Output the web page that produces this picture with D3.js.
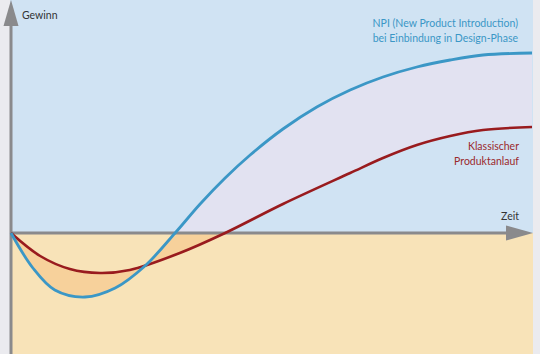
<!DOCTYPE html>
<html>
<head>
<meta charset="utf-8">
<script src="https://cdn.jsdelivr.net/npm/d3@7"></script>
<style>
  body { margin: 0; background: #ebebef; }
  svg { display: block; }
</style>
</head>
<body>
<div id="chart"></div>
<script>
// time axis (0 = launch start), arbitrary units
const npiTime = [0, 4.2, 8.4, 14.2, 20, 25.7, 31.5, 36.3, 41.1, 45.9, 52.2, 58.7, 65.1, 71.4, 77.9, 84.3, 90.6, 100];
const npiProfit = [0, -35, -57, -64, -55, -33, 0, 29, 55, 78, 104, 126, 143, 156, 166, 173, 178, 180];

const classicTime = [0, 5.6, 11.3, 17.1, 22.8, 32.4, 41.1, 52.2, 65.1, 71.4, 77.9, 84.3, 90.6, 100];
const classicProfit = [0, -23, -36, -40, -37, -20, 0, 29, 60, 75, 88, 97, 103, 106];

const labels = {
    yAxis: "Gewinn",
    xAxis: "Zeit",
    npi: ["NPI (New Product Introduction)", "bei Einbindung in Design-Phase"],
    classic: ["Klassischer", "Produktanlauf"]
};

const width = 540, height = 354;
const plot = {left: 10, right: 533};
const x0 = 11; // vertical axis position

const svg = d3.select("#chart").append("svg")
    .attr("width", width)
    .attr("height", height);

let x = d3.scaleLinear().domain([0, 100]).range([x0, 532]);
let y = d3.scaleLinear().domain([-121, 233]).range([354, 0]);

// backgrounds
svg.append("rect")
    .attr("x", plot.left).attr("y", 0)
    .attr("width", plot.right - plot.left).attr("height", y(0))
    .attr("fill", "#d0e3f3");
svg.append("rect")
    .attr("x", plot.left).attr("y", y(0))
    .attr("width", plot.right - plot.left).attr("height", height - y(0))
    .attr("fill", "#f8e3b8");

let lineGen = d3.line()
    .x(d => x(d[0]))
    .y(d => y(d[1]))
    .curve(d3.curveCatmullRom.alpha(0.5));
let npiPts = npiTime.map((t, i) => [t, npiProfit[i]]);
let classicPts = classicTime.map((t, i) => [t, classicProfit[i]]);

// closed path between curves: npi forward, classic backward
let npiPath = lineGen(npiPts);
let classicRev = lineGen(classicPts.slice().reverse());
let areaD = npiPath + "L" + classicRev.slice(1) + "Z";

let defs = svg.append("defs");
defs.append("clipPath").attr("id", "clip-up")
    .append("rect").attr("x", 0).attr("y", 0).attr("width", width).attr("height", y(0));
defs.append("clipPath").attr("id", "clip-down")
    .append("rect").attr("x", 0).attr("y", y(0)).attr("width", width).attr("height", height - y(0));

svg.append("path")
    .attr("d", areaD)
    .attr("fill", "#e2e2f1")
    .attr("clip-path", "url(#clip-up)");
svg.append("path")
    .attr("d", areaD)
    .attr("fill", "#f7d19b")
    .attr("clip-path", "url(#clip-down)");

// axes
let axisColor = "#8a8a8c";
svg.append("line")
    .attr("x1", x0).attr("x2", 508)
    .attr("y1", y(0)).attr("y2", y(0))
    .attr("stroke", axisColor).attr("stroke-width", 3);
svg.append("path")
    .attr("d", `M533,${y(0)} L506,${y(0) - 7.5} L506,${y(0) + 7.5} Z`)
    .attr("fill", axisColor);
svg.append("line")
    .attr("x1", x0).attr("x2", x0)
    .attr("y1", height).attr("y2", 22)
    .attr("stroke", axisColor).attr("stroke-width", 3);
svg.append("path")
    .attr("d", `M${x0},0 L${x0 - 7.5},26 L${x0 + 7.5},26 Z`)
    .attr("fill", axisColor);

// curves
svg.append("path")
    .attr("d", lineGen(classicPts))
    .attr("fill", "none")
    .attr("stroke", "#991b1e")
    .attr("stroke-width", 2.6);
svg.append("path")
    .attr("d", npiPath)
    .attr("fill", "none")
    .attr("stroke", "#3b97c6")
    .attr("stroke-width", 2.8);

// labels
let font = "Lato, 'Open Sans', sans-serif";
svg.append("text")
    .attr("x", 22).attr("y", 19)
    .attr("font-family", font).attr("font-size", 10.5)
    .attr("fill", "#333")
    .text(labels.yAxis);
svg.append("text")
    .attr("x", 519).attr("y", 220)
    .attr("text-anchor", "end")
    .attr("font-family", font).attr("font-size", 10.5)
    .attr("fill", "#333")
    .text(labels.xAxis);

labels.npi.forEach((t, i) => {
    svg.append("text")
        .attr("x", 518).attr("y", 27 + i * 14.5)
        .attr("text-anchor", "end")
        .attr("font-family", font).attr("font-size", 10.5)
        .attr("fill", "#3b97c6")
        .text(t);
});
labels.classic.forEach((t, i) => {
    svg.append("text")
        .attr("x", 519).attr("y", 150 + i * 14.5)
        .attr("text-anchor", "end")
        .attr("font-family", font).attr("font-size", 10.5)
        .attr("fill", "#9b2a2c")
        .text(t);
});
</script>
</body>
</html>
